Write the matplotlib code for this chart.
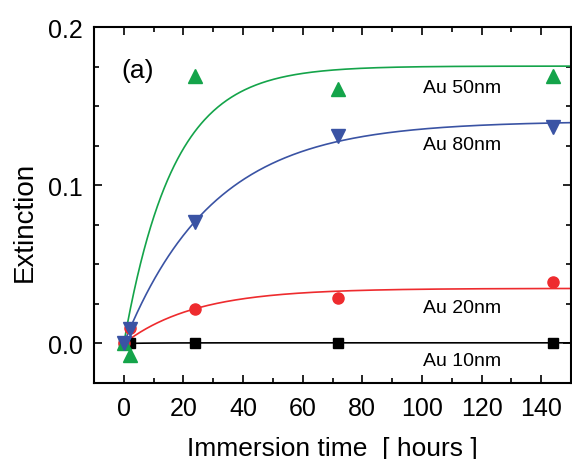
import numpy as np
import matplotlib
matplotlib.use("Agg")
import matplotlib.pyplot as plt
from matplotlib.ticker import MultipleLocator

plt.rcParams['font.family'] = ['Liberation Sans', 'DejaVu Sans']

# measured points (hours, extinction)
t_meas = [0, 2, 24, 72, 144]
ext_10 = [0.0, 0.0, 0.0005, 0.0, 0.0]
ext_20 = [0.0, 0.010, 0.022, 0.029, 0.039]
ext_50 = [0.0, -0.007, 0.169, 0.161, 0.169]
ext_80 = [0.0, 0.009, 0.077, 0.131, 0.137]

# exponential saturation fits: A * (1 - exp(-t / tau))
fit_amp = {'10': 0.0004, '20': 0.0348, '50': 0.1753, '80': 0.1405}
fit_tau = {'10': 10.0, '20': 24.0, '50': 16.5, '80': 30.0}

labels = ['Au 50nm', 'Au 80nm', 'Au 20nm', 'Au 10nm']
label_y = [0.162, 0.126, 0.0228, -0.0105]

fig = plt.figure(figsize=(5.72, 4.6), dpi=100)
ax = fig.add_axes([0.1643, 0.1652, 0.8340, 0.7739])

t_fit = np.linspace(0, 150, 400)
series = [('10', ext_10, 'black', 's', 7),
          ('20', ext_20, '#ee2b2e', 'o', 8),
          ('50', ext_50, '#14a44a', '^', 9.5),
          ('80', ext_80, '#3a53a4', 'v', 9.5)]
for key, y, col, mk, ms in series:
    ax.plot(t_fit, fit_amp[key] * (1 - np.exp(-t_fit / fit_tau[key])), color=col, lw=1.2, zorder=2)
    ax.plot(t_meas, y, linestyle='none', marker=mk, color=col, ms=ms, mec=col, zorder=3)

for lab, yy in zip(labels, label_y):
    ax.text(113.5, yy, lab, fontsize=14, ha='center', va='center')
ax.text(-0.7, 0.173, '(a)', fontsize=19, ha='left', va='center')

ax.set_xlim(-10, 150)
ax.set_ylim(-0.025, 0.2)
ax.xaxis.set_major_locator(MultipleLocator(20))
ax.xaxis.set_minor_locator(MultipleLocator(10))
ax.yaxis.set_major_locator(MultipleLocator(0.1))
ax.yaxis.set_minor_locator(MultipleLocator(0.025))
ax.yaxis.set_major_formatter(matplotlib.ticker.FormatStrFormatter('%.1f'))
ax.tick_params(which='both', direction='in', top=True, right=True, labelsize=18, width=1.2)
ax.tick_params(which='major', length=6)
ax.tick_params(axis='x', which='major', pad=9)
ax.tick_params(axis='y', which='major', pad=8)
ax.tick_params(which='minor', length=3.5)
for s in ax.spines.values():
    s.set_linewidth(1.5)

ax.set_xlabel('Immersion time  [ hours ]', fontsize=19, labelpad=12)
ax.set_ylabel('Extinction', fontsize=20)
ax.yaxis.set_label_coords(-0.118, 0.454)

fig.savefig('out.png', dpi=100)
